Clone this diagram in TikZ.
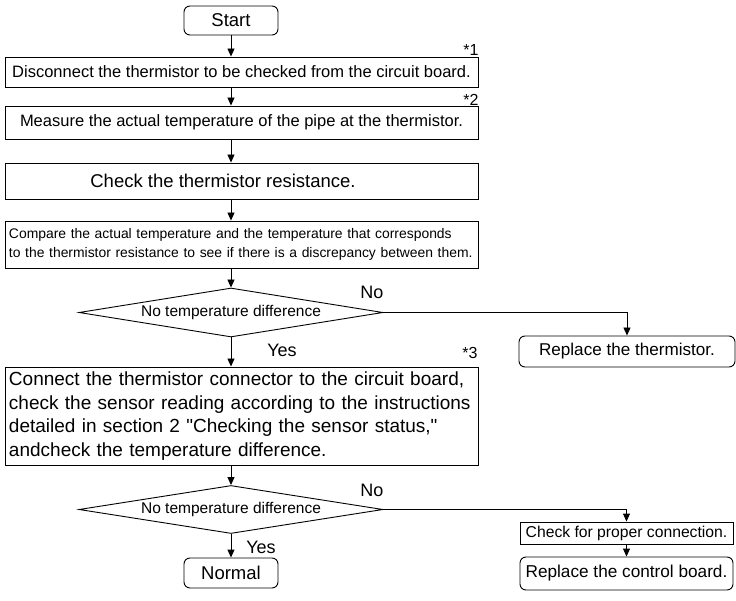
\documentclass[tikz,border=0pt]{standalone}
\usepackage{fontspec}
\setmainfont{Liberation Sans}[Ligatures=TeXOff]
\usetikzlibrary{arrows.meta,shapes.geometric}
\newcommand\fsz[2]{\fontsize{#1}{#2}\selectfont}
\begin{document}
\begin{tikzpicture}[x=1pt,y=-1pt,
  line width=0.9pt,
  box/.style={draw, rectangle, inner sep=0pt},
  rbox/.style={draw, rectangle, rounded corners=6pt, inner sep=0pt},
  dec/.style={draw, diamond, inner sep=0pt, minimum width=304pt, shape aspect=6.2},
  arr/.style={-{Triangle[length=8pt,width=7pt]}},
  lab/.style={inner sep=0pt, font=\fsz{18}{21}},
  star/.style={inner sep=0pt, font=\fsz{16}{19}}
]
\useasboundingbox (0,0) rectangle (736,601);

\node[rbox, minimum width=94pt, minimum height=29pt, font=\fsz{18.5}{22}] (start) at (231,20.5) {Start};
\node[box, minimum width=473pt, minimum height=30pt, font=\fsz{16.5}{19}] (b1) at (241.5,72) {Disconnect the thermistor to be checked from the circuit board.};
\node[box, minimum width=473pt, minimum height=33pt, font=\fsz{16.5}{19}] (b2) at (241.5,122.5) {Measure the actual temperature of the pipe at the thermistor.};
\node[box, minimum width=473pt, minimum height=36pt] (b3) at (241.5,181) {};
\node[inner sep=0pt, font=\fsz{18.5}{22}] (t3) at (223,181) {Check the thermistor resistance.};
\node[box, minimum width=473pt, minimum height=47pt, text width=465pt, inner xsep=4pt, align=left, font=\fsz{13.9}{19.5}] (b4) at (241.5,244.5) {\mbox{Compare the actual temperature and the temperature that corresponds}\\\mbox{to the thermistor resistance to see if there is a discrepancy between them.}};
\node[dec, minimum height=49pt, font=\fsz{15.5}{18}] (d1) at (231,312.5) {No temperature difference};
\node[rbox, minimum width=216pt, minimum height=31pt, font=\fsz{17.1}{20}] (rt) at (627,351.5) {Replace the thermistor.};
\node[box, minimum width=473pt, minimum height=98pt, text width=465pt, inner xsep=4pt, align=left, font=\fsz{19}{23.5}] (b5) at (241.5,416) {\mbox{Connect the thermistor connector to the circuit board,}\\\mbox{check the sensor reading according to the instructions}\\\mbox{detailed in section 2 "Checking the sensor status,"}\\\mbox{andcheck the temperature difference.}};
\node[dec, minimum height=48pt, font=\fsz{15.5}{18}] (d2) at (231,509.5) {No temperature difference};
\node[box, minimum width=213pt, minimum height=22pt, font=\fsz{15.7}{18}] (cc) at (626.5,533) {Check for proper connection.};
\node[rbox, minimum width=213pt, minimum height=33pt, font=\fsz{17.2}{20}] (rc) at (626.5,573.5) {Replace the control board.};
\node[rbox, minimum width=94pt, minimum height=30pt, font=\fsz{18.5}{22}] (nm) at (231,573) {Normal};

\node[star] (s1) at (471,50) {*1};
\node[star] (s2) at (471,100) {*2};
\node[star] (s3) at (470,353) {*3};
\node[lab] (no1) at (372,292) {No};
\node[lab] (no2) at (372,490) {No};
\node[lab] (y1) at (282,350) {Yes};
\node[lab] (y2) at (261,547) {Yes};

\draw[arr] (start.south) -- (start.south |- b1.north);
\draw[arr] (start.south |- b1.south) -- (start.south |- b2.north);
\draw[arr] (start.south |- b2.south) -- (start.south |- b3.north);
\draw[arr] (start.south |- b3.south) -- (start.south |- b4.north);
\draw[arr] (start.south |- b4.south) -- (d1.north);
\draw[arr] (d1.south) -- (d1.south |- b5.north);
\draw[arr] (d1.south |- b5.south) -- (d2.north);
\draw[arr] (d2.south) -- (nm.north);
\draw[arr] (d1.east) -| (rt.north);
\draw[arr] (d2.east) -| (cc.north);
\draw[arr] (cc.south) -- (rc.north);
\end{tikzpicture}
\end{document}
